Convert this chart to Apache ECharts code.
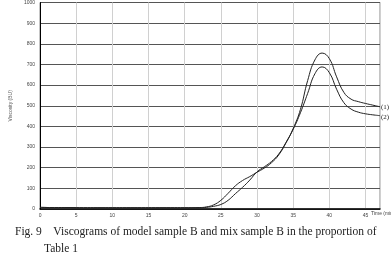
<!DOCTYPE html>
<html><head><meta charset="utf-8">
<script src="https://cdn.jsdelivr.net/npm/echarts@6/dist/echarts.min.js"></script>
<style>html,body{margin:0;padding:0;background:#fff}#c{width:391px;height:259px}</style>
</head><body><div id="c"></div>
<script>
const times = [0,2,4,6,8,10,12,14,16,18,20,22,23,24,25,26,27,28,29,30,31,32,33,34,35,36,37,38,39,40,41,42,43,44,45,46,47];
const visc1 = [8,7,7,6,6,6,6,6,6,6,6,7,10,20,42,76,112,138,157,178,198,224,262,320,390,482,622,722,755,728,640,565,532,520,511,503,495];
const visc2 = [8,7,7,6,6,6,6,6,6,6,6,6,8,13,22,42,74,105,140,180,204,230,266,322,386,466,560,655,688,660,580,515,484,469,461,456,452];
const xTicks = [0,5,10,15,20,25,30,35,40,45];
const yTicks = [0,100,200,300,400,500,600,700,800,900,1000];
const seriesLabels = ['(1)','(2)'];
const caption1 = 'Fig. 9\u2002\u2002Viscograms of model sample B and mix sample B in the proportion of';
const caption2 = 'Table 1';

const chart = echarts.init(document.getElementById('c'));
const mk = (arr, i) => ({
  type:'line', data: times.map((t,k)=>[t,arr[k]]), smooth:0.45, symbol:'none',
  lineStyle:{color:'#222', width:1},
  endLabel:{show:true, formatter:seriesLabels[i], fontSize:7, fontFamily:'Liberation Serif', color:'#222', distance:1, offset:[0, i===0?0:1]}
});
chart.setOption({
  animation:false,
  grid:{left:21.5, right:11, top:1, bottom:50, show:true, borderColor:'#888', borderWidth:1},
  xAxis:{type:'value', min:0, max:47, interval:5,
    axisLine:{show:true, lineStyle:{color:'#000', width:1.5}}, axisTick:{show:false},
    axisLabel:{fontSize:5, color:'#444', margin:4, customValues:xTicks, formatter:v=>String(v)},
    splitLine:{show:true, lineStyle:{color:'#d0d0d0', width:1}}},
  yAxis:{type:'value', min:0, max:1000, interval:100,
    axisLine:{show:true, lineStyle:{color:'#000', width:1}}, axisTick:{show:false},
    axisLabel:{fontSize:5, color:'#444', margin:5, customValues:yTicks, formatter:v=>String(v)},
    splitLine:{show:true, lineStyle:{color:'#555', width:1}},
    name:'Viscosity (BU)', nameLocation:'middle', nameGap:15, nameTextStyle:{fontSize:5, color:'#555'}},
  series:[mk(visc1,0), mk(visc2,1)],
  graphic:[
    {type:'text', left:371, top:211, style:{text:'Time (min)', fontSize:5, fill:'#444'}},
    {type:'text', left:15, top:226, style:{text:caption1, fontSize:11.5, fontFamily:'Liberation Serif', fill:'#222'}},
    {type:'text', left:44, top:243, style:{text:caption2, fontSize:11.5, fontFamily:'Liberation Serif', fill:'#222'}}
  ]
});
</script></body></html>
